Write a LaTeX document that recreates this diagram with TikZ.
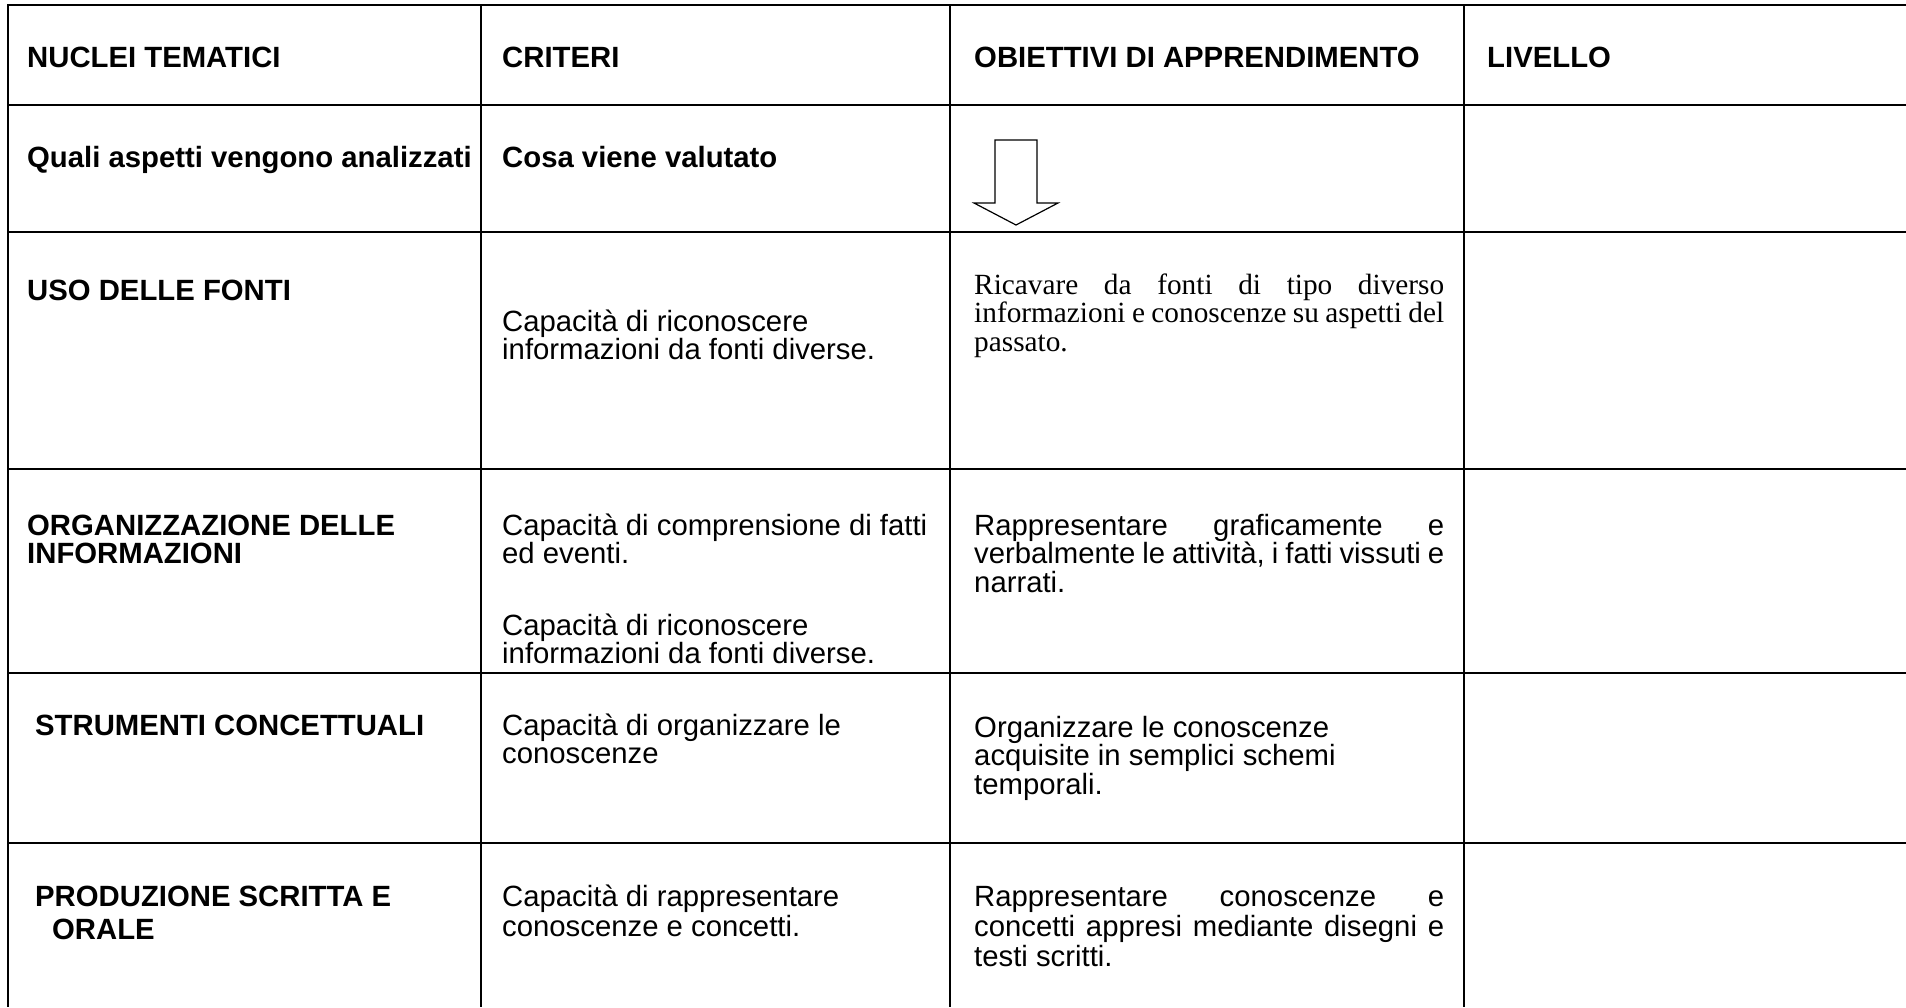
\documentclass[tikz,border=0pt]{standalone}
\usepackage{fontspec}
\setmainfont{Liberation Sans}
\newfontfamily\timesfont{Liberation Serif}
\newcommand\cellfont{\fontsize{29.3pt}{28.5pt}\selectfont}
\newcommand\loosefont{\fontsize{29.3pt}{30pt}\selectfont}
\newcommand\spreadline[1]{\makebox[\linewidth][s]{#1}}

\begin{document}
\begin{tikzpicture}[x=1pt, y=-1pt,
    rule/.style={line width=2pt},
    sep/.style={line width=1.5pt},
    cell/.style={anchor=base west, inner sep=0pt, align=flush left, text width=460pt, font=\cellfont},
    head/.style={cell, font=\cellfont\bfseries},
    wide/.style={cell, text width=470pt}]
  \useasboundingbox (0,0) rectangle (1906,1007);
  % Grid
  \foreach \y in {5,105,232,469,673,843}
    \draw[rule] (7,\y) -- (1906,\y); %
  \foreach \x in {8,481,950,1464}
    \draw[sep] (\x,4) -- (\x,1007); %
  % Header
  \node[head] (nuclei) at (27,67) {NUCLEI TEMATICI} ; %
  \node[head] (criteri) at (502,67) {CRITERI} ; %
  \node[head] (obiettivi) at (974,67) {OBIETTIVI DI APPRENDIMENTO} ; %
  \node[head] (livello) at (1487,67) {LIVELLO} ; %
  \node[head] (quali) at (27,167) {Quali aspetti vengono analizzati} ; %
  \node[head] (cosa) at (502,167) {Cosa viene valutato} ; %
  \draw[line width=1.2pt, line join=miter] (995,140) -- (1037,140) -- (1037,203) -- (1058,203)
    -- (1016,225) -- (974,203) -- (995,203) -- cycle ; %
  % Uso delle fonti
  \node[head] (uso) at (27,300) {USO DELLE FONTI} ; %
  \node[cell] (capfonti) at (502,331) {Capacità di riconoscere\\informazioni da fonti diverse.} ; %
  \node[wide, font=\cellfont\timesfont] (ricavare) at (974,294)
    {\spreadline{Ricavare da fonti di tipo diverso}\\\spreadline{informazioni e conoscenze su aspetti del}\\passato.} ; %
  % Organizzazione
  \node[head] (organizzazione) at (27,535) {ORGANIZZAZIONE DELLE\\INFORMAZIONI} ; %
  \node[cell] (capfatti) at (502,535) {Capacità di comprensione di fatti\\ed eventi.} ; %
  \node[cell] (capinfo) at (502,635) {Capacità di riconoscere\\informazioni da fonti diverse.} ; %
  \node[wide] (rappgraf) at (974,535)
    {\spreadline{Rappresentare graficamente e}\\\spreadline{verbalmente le attività, i fatti vissuti e}\\narrati.} ; %
  % Strumenti
  \node[head] (strumenti) at (35,735) {STRUMENTI CONCETTUALI} ; %
  \node[cell] (caporg) at (502,735) {Capacità di organizzare le\\conoscenze} ; %
  \node[wide] (organizzare) at (974,737) {Organizzare le conoscenze\\acquisite in semplici schemi\\temporali.} ; %
  % Produzione
  \node[head, font=\fontsize{29.3pt}{33pt}\selectfont\bfseries] (produzione) at (35,906)
    {PRODUZIONE SCRITTA E\\\hspace*{17pt}ORALE} ; %
  \node[cell, font=\loosefont] (caprapp) at (502,906) {Capacità di rappresentare\\conoscenze e concetti.} ; %
  \node[wide, font=\loosefont] (rappcon) at (974,906)
    {\spreadline{Rappresentare conoscenze e}\\\spreadline{concetti appresi mediante disegni e}\\testi scritti.} ; %
\end{tikzpicture}
\end{document}
